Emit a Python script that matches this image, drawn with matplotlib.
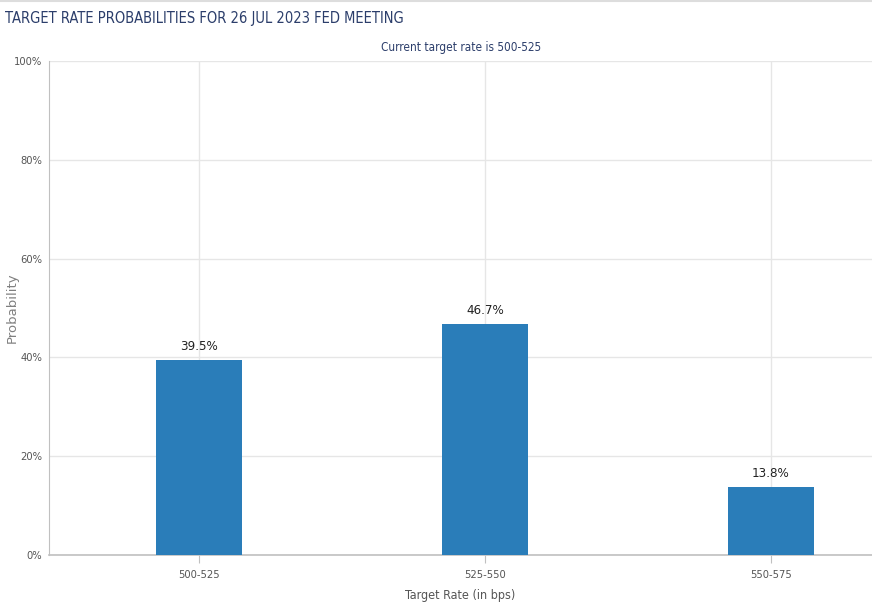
import matplotlib
matplotlib.use('Agg')
import matplotlib.pyplot as plt
from matplotlib.ticker import FuncFormatter

# ── Data ──────────────────────────────────────────────────────────────────────
categories = ['500-525', '525-550', '550-575']
probabilities = [39.5, 46.7, 13.8]
y_ticks = [0, 20, 40, 60, 80, 100]

# ── Palette ───────────────────────────────────────────────────────────────────
NAVY = '#2c3e6b'
BAR = '#2a7db9'
GRID = '#e6e6e6'
AXIS = '#c0c0c0'
TXT = '#555555'
COND = dict(family='DejaVu Sans', fontstretch='condensed')

fig = plt.figure(figsize=(8.72, 6.06), dpi=100, facecolor='white')
ax = fig.add_axes([49/872, 1 - 555/606, 1 - 49/872, (555 - 61)/606])

x = list(range(len(categories)))
ax.bar(x, probabilities, width=0.3, color=BAR, zorder=3)

for xi, p in zip(x, probabilities):
    ax.text(xi, p + 1.4, f'{p:.1f}%', ha='center', va='bottom',
            fontsize=9.5, color='#222222', zorder=4, **COND)

ax.set_xlim(-0.524, 2.353)
ax.set_ylim(0, 100)
ax.set_xticks(x)
ax.set_xticklabels(categories, fontsize=8, color=TXT, **COND)
ax.set_yticks(y_ticks)
ax.yaxis.set_major_formatter(FuncFormatter(lambda v, _: f'{v:.0f}%'))
for lbl in ax.get_yticklabels():
    lbl.set_family('DejaVu Sans')
    lbl.set_stretch('condensed')
    lbl.set_fontsize(8)
    lbl.set_color(TXT)

ax.grid(True, color=GRID, linewidth=1, zorder=0)
ax.tick_params(axis='y', length=0, pad=5)
ax.tick_params(axis='x', length=6, color=AXIS, pad=5)
for s in ('top', 'right'):
    ax.spines[s].set_visible(False)
ax.spines['left'].set_color(AXIS)
ax.spines['bottom'].set_color(AXIS)
ax.spines['bottom'].set_linewidth(1.2)

ax.set_xlabel('Target Rate (in bps)', fontsize=9, color=TXT, labelpad=6, **COND)
ax.set_ylabel('Probability', fontsize=9.5, color='#808080')
ax.yaxis.set_label_coords(-30/823, 0.5)

fig.text(5/872, 1 - 18/606, 'TARGET RATE PROBABILITIES FOR 26 JUL 2023 FED MEETING',
         ha='left', va='center', fontsize=10.5, color=NAVY, **COND)
fig.text(461/872, 1 - 47/606, 'Current target rate is 500-525',
         ha='center', va='center', fontsize=8.5, color=NAVY, **COND)
fig.add_artist(plt.Line2D([0, 1], [1 - 1/606, 1 - 1/606], color='#dddddd',
                          linewidth=1.5, transform=fig.transFigure))

fig.savefig('out.png', dpi=100, facecolor='white')
